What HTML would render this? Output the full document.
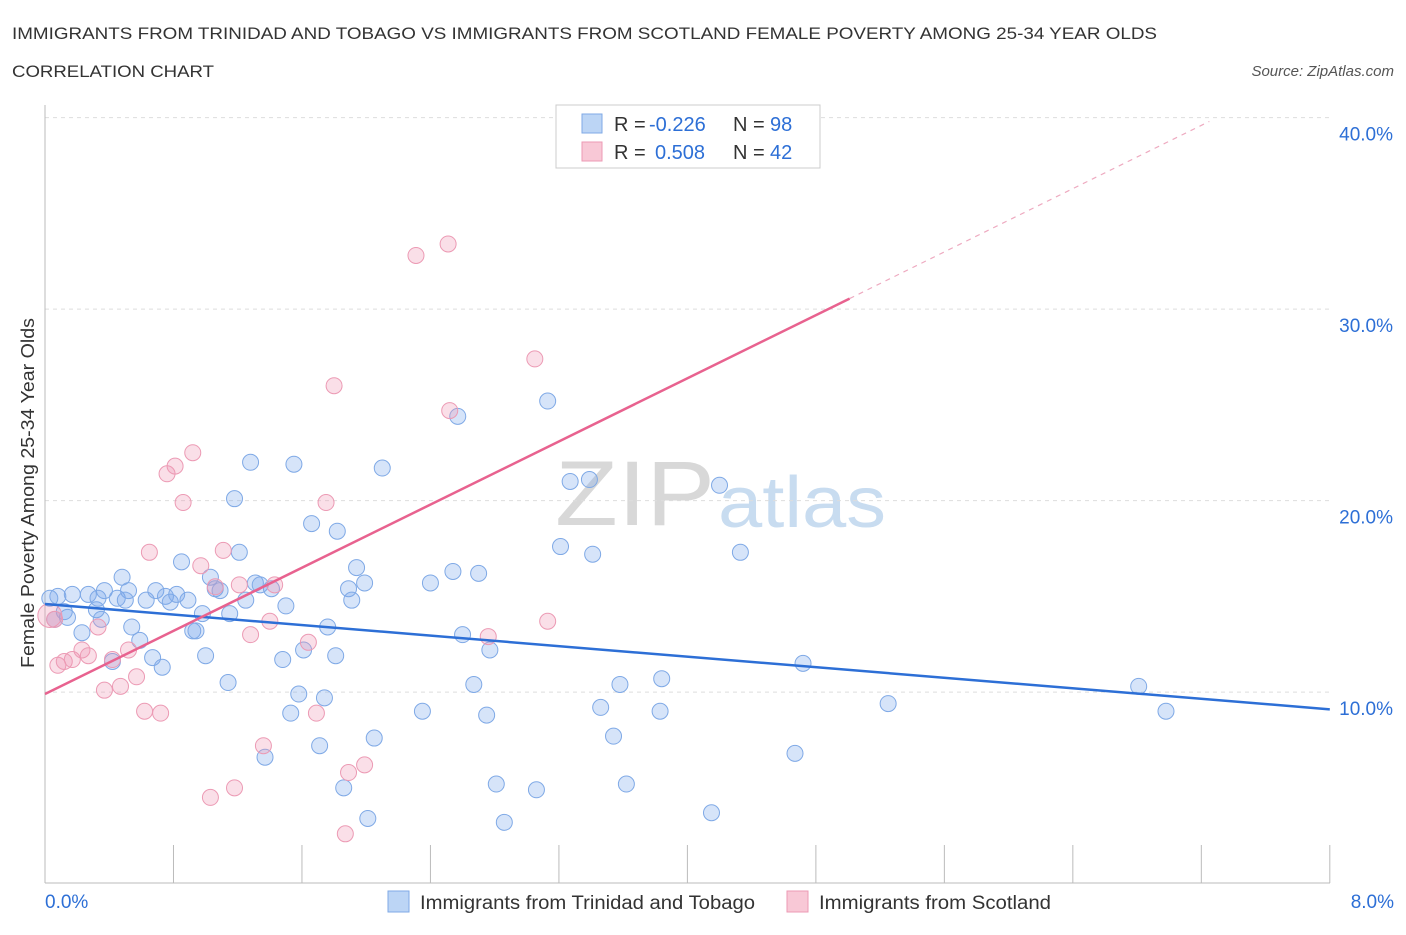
<!DOCTYPE html>
<html><head><meta charset="utf-8">
<style>
body{margin:0;background:#fff;font-family:"Liberation Sans",sans-serif;}
svg text{font-family:"Liberation Sans",sans-serif;}
</style></head>
<body>
<svg id="chart" width="1406" height="930" xmlns="http://www.w3.org/2000/svg">
<text x="12" y="39" font-size="17" fill="#333" textLength="1145" lengthAdjust="spacingAndGlyphs">IMMIGRANTS FROM TRINIDAD AND TOBAGO VS IMMIGRANTS FROM SCOTLAND FEMALE POVERTY AMONG 25-34 YEAR OLDS</text>
<text x="12" y="77" font-size="17" fill="#333" textLength="202" lengthAdjust="spacingAndGlyphs">CORRELATION CHART</text>
<text x="1394" y="76" font-size="15" fill="#555" text-anchor="end" font-style="italic">Source: ZipAtlas.com</text>
<text x="555" y="525" font-size="92" fill="#d8d8d8" font-family="Liberation Serif" textLength="160" lengthAdjust="spacingAndGlyphs">ZIP</text>
<text x="718" y="527" font-size="72" fill="#c8dcf0" textLength="168" lengthAdjust="spacingAndGlyphs">atlas</text>
<g id="grid"></g>
<g id="axes"></g>
<g id="marks"></g>
<text transform="translate(34,493) rotate(-90)" font-size="18" fill="#333" text-anchor="middle" textLength="350" lengthAdjust="spacingAndGlyphs">Female Poverty Among 25-34 Year Olds</text>
<g>
<rect x="556" y="105" width="264" height="63" fill="#fff" stroke="#ccc"/>
<rect x="582" y="114" width="20" height="19" fill="#bcd5f5" stroke="#7fa9e6"/>
<text x="614" y="131" font-size="20" fill="#333">R =</text>
<text x="649" y="131" font-size="20" fill="#2d6fd6">-0.226</text>
<text x="733" y="131" font-size="20" fill="#333">N =</text>
<text x="770" y="131" font-size="20" fill="#2d6fd6">98</text>
<rect x="582" y="142" width="20" height="19" fill="#f8c8d6" stroke="#ec9ab4"/>
<text x="614" y="159" font-size="20" fill="#333">R =</text>
<text x="655" y="159" font-size="20" fill="#2d6fd6">0.508</text>
<text x="733" y="159" font-size="20" fill="#333">N =</text>
<text x="770" y="159" font-size="20" fill="#2d6fd6">42</text>
</g>
<g>
<rect x="388" y="891" width="21" height="21" fill="#bcd5f5" stroke="#7fa9e6"/>
<text x="420" y="909" font-size="19" fill="#333" textLength="335" lengthAdjust="spacingAndGlyphs">Immigrants from Trinidad and Tobago</text>
<rect x="787" y="891" width="21" height="21" fill="#f8c8d6" stroke="#ec9ab4"/>
<text x="819" y="909" font-size="19" fill="#333" textLength="232" lengthAdjust="spacingAndGlyphs">Immigrants from Scotland</text>
</g>
</svg>
<script>
const yTicks=[10,20,30,40];
const yTickLabels=["10.0%","20.0%","30.0%","40.0%"];
const xTicks=[0,0.8,1.6,2.4,3.2,4,4.8,5.6,6.4,7.2,8];
const xEndLabels=["0.0%","8.0%"];
const blueX=[0.03,0.08,0.12,0.17,0.23,0.27,0.32,0.35,0.37,0.42,0.45,0.48,0.52,0.54,0.59,0.63,0.67,0.69,0.73,0.75,0.78,0.82,0.85,0.89,0.92,0.94,0.98,1.00,1.03,1.06,1.09,1.14,1.15,1.18,1.21,1.25,1.28,1.31,1.34,1.37,1.41,1.48,1.50,1.53,1.55,1.58,1.61,1.66,1.71,1.74,1.76,1.81,1.82,1.86,1.89,1.91,1.94,1.99,2.01,2.05,2.10,2.35,2.40,2.54,2.57,2.60,2.67,2.70,2.75,2.77,2.81,2.86,3.06,3.13,3.21,3.27,3.39,3.41,3.46,3.54,3.58,3.62,3.83,3.84,4.15,4.20,4.33,4.67,4.72,5.25,6.81,6.98,0.14,0.06,0.50,0.33];
const blueY=[14.9,15.0,14.2,15.1,13.1,15.1,14.3,13.8,15.3,11.6,14.9,16.0,15.3,13.4,12.7,14.8,11.8,15.3,11.3,15.0,14.7,15.1,16.8,14.8,13.2,13.2,14.1,11.9,16.0,15.4,15.3,10.5,14.1,20.1,17.3,14.8,22.0,15.7,15.6,6.6,15.4,11.7,14.5,8.9,21.9,9.9,12.2,18.8,7.2,9.7,13.4,11.9,18.4,5.0,15.4,14.8,16.5,15.7,3.4,7.6,21.7,9.0,15.7,16.3,24.4,13.0,10.4,16.2,8.8,12.2,5.2,3.2,4.9,25.2,17.6,21.0,21.1,17.2,9.2,7.7,10.4,5.2,9.0,10.7,3.7,20.8,17.3,6.8,11.5,9.4,10.3,9.0,13.9,13.8,14.8,14.9];
const pinkX=[0.03,0.06,0.08,0.12,0.17,0.23,0.27,0.33,0.37,0.42,0.47,0.52,0.57,0.62,0.65,0.72,0.76,0.81,0.86,0.92,0.97,1.03,1.06,1.11,1.18,1.21,1.28,1.36,1.40,1.43,1.64,1.69,1.75,1.80,1.89,1.87,1.99,2.31,2.51,2.52,2.76,3.05,3.13];
const pinkY=[14.0,13.8,11.4,11.6,11.7,12.2,11.9,13.4,10.1,11.7,10.3,12.2,10.8,9.0,17.3,8.9,21.4,21.8,19.9,22.5,16.6,4.5,15.5,17.4,5.0,15.6,13.0,7.2,13.7,15.6,12.6,8.9,19.9,26.0,5.8,2.6,6.2,32.8,33.4,24.7,12.9,27.4,13.7];
const blueLine=[[0,14.6],[8,9.1]];
const pinkLine=[[0,9.9],[5.01,30.55]];
const pinkDash=[[5.01,30.55],[7.25,39.8]];

const NS="http://www.w3.org/2000/svg";
const X=v=>45+v*160.6;
const Y=v=>883.6-v*19.15;
function mk(tag,attrs,parent){const e=document.createElementNS(NS,tag);for(const k in attrs)e.setAttribute(k,attrs[k]);parent.appendChild(e);return e;}
const grid=document.getElementById('grid'),axes=document.getElementById('axes'),marks=document.getElementById('marks');
yTicks.forEach((t,i)=>{
 const l=mk('line',{x1:45,x2:1330,y1:Y(t),y2:Y(t),stroke:'#ddd','stroke-dasharray':'4,4'},grid);
 
 
 const tx=mk('text',{x:1393,y:Y(t)+23,'font-size':19,fill:'#2d6fd6','text-anchor':'end'},axes);
 tx.textContent=yTickLabels[i];
 
 
});
const ax=mk('line',{x1:45,x2:45,y1:105,y2:883,stroke:'#bbb'},axes);


const bx=mk('line',{x1:45,x2:1330,y1:883,y2:883,stroke:'#bbb'},axes);


xTicks.forEach(t=>{
 const l=mk('line',{x1:X(t),x2:X(t),y1:845,y2:883,stroke:'#bbb'},axes);
 
 
});
[[0,'start',45],[8,'end',1394]].forEach((d,i)=>{
 const tx=mk('text',{x:d[2],y:908,'font-size':19,fill:'#2d6fd6','text-anchor':d[1]},axes);
 tx.textContent=xEndLabels[i];
 
 
});
blueX.forEach((x,i)=>{
 const c=mk('circle',{cx:X(x),cy:Y(blueY[i]),r:8,fill:'rgba(120,165,235,0.3)',stroke:'#7fa9e6','stroke-width':1},marks);
 
 
});
pinkX.forEach((x,i)=>{
 const c=mk('circle',{cx:X(x),cy:Y(pinkY[i]),r:i===0?12:8,fill:'rgba(240,150,180,0.3)',stroke:'#ec9ab4','stroke-width':1},marks);
 
 
});
const bl=mk('line',{x1:X(blueLine[0][0]),y1:Y(blueLine[0][1]),x2:X(blueLine[1][0]),y2:Y(blueLine[1][1]),stroke:'#2d6fd6','stroke-width':2.5},marks);


const pl=mk('line',{x1:X(pinkLine[0][0]),y1:Y(pinkLine[0][1]),x2:X(pinkLine[1][0]),y2:Y(pinkLine[1][1]),stroke:'#e8628f','stroke-width':2.5},marks);


const pd=mk('line',{x1:X(pinkDash[0][0]),y1:Y(pinkDash[0][1]),x2:X(pinkDash[1][0]),y2:Y(pinkDash[1][1]),stroke:'#eeaac0','stroke-width':1.2,'stroke-dasharray':'5,5'},marks);


</script>
</body></html>
